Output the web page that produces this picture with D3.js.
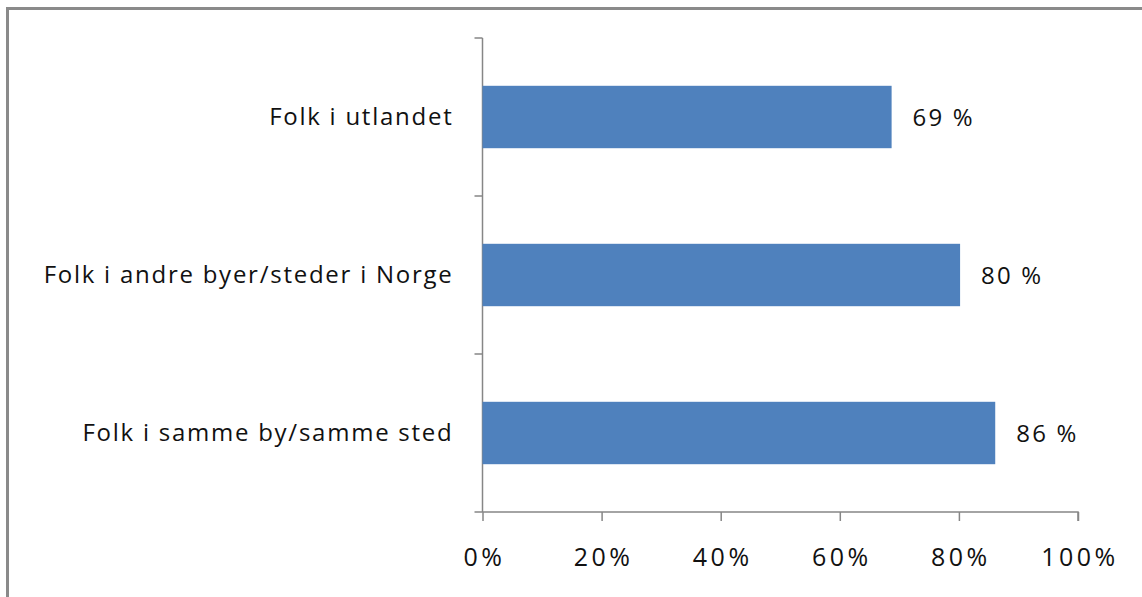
<!DOCTYPE html>
<html>
<head>
<meta charset="utf-8">
<script src="https://cdn.jsdelivr.net/npm/d3@7"></script>
<style>
  html, body { margin: 0; padding: 0; background: #fff; }
  svg { display: block; }
  text { font-family: "Open Sans", sans-serif; fill: #111; }
</style>
</head>
<body>
<svg id="chart" width="1142" height="597"></svg>
<script>
const categories = ["Folk i utlandet", "Folk i andre byer/steder i Norge", "Folk i samme by/samme sted"];
const values = [68.7, 80.2, 86.1];
const valueLabels = ["69 %", "80 %", "86 %"];
const tickValues = [0, 20, 40, 60, 80, 100];
const tickLabels = ["0%", "20%", "40%", "60%", "80%", "100%"];

const svg = d3.select("#chart");
const margin = {left: 482.5, top: 38};

// outer frame (partially cropped)
svg.append("rect")
  .attr("x", 7.5).attr("y", 8.5)
  .attr("width", 1300).attr("height", 800)
  .attr("fill", "none").attr("stroke", "#8a8a8a").attr("stroke-width", 3);

const x = d3.scaleLinear().domain([0, 100]).range([margin.left, 1078]);
const y = d3.scaleBand().domain(categories).range([margin.top, 512]).paddingInner(0.605).paddingOuter(0.3025);

const axisColor = "#868686";

// y axis line and ticks at band boundaries
const yAxisG = svg.append("g");
yAxisG.append("line")
  .attr("x1", x(0)).attr("x2", x(0))
  .attr("y1", margin.top).attr("y2", 512)
  .attr("stroke", axisColor).attr("stroke-width", 1.5);
const boundaries = d3.range(categories.length + 1).map(i => margin.top + i * (512 - margin.top) / categories.length);
yAxisG.selectAll("line.yt").data(boundaries).join("line")
  .attr("class", "yt")
  .attr("x1", x(0) - 8).attr("x2", x(0))
  .attr("y1", d => d).attr("y2", d => d)
  .attr("stroke", axisColor).attr("stroke-width", 1.5);

// x axis
const xAxis = d3.axisBottom(x).tickValues(tickValues).tickSize(9).tickFormat((d, i) => tickLabels[i]);
const xg = svg.append("g").attr("transform", "translate(0,512)").call(xAxis);
xg.select(".domain").attr("stroke", axisColor).attr("stroke-width", 1.5).attr("d", `M${x(0)},0H${x(100)}V9`);
xg.selectAll(".tick line").attr("stroke", axisColor).attr("stroke-width", 1.5);
xg.selectAll(".tick text")
  .attr("y", 54).attr("dy", 0)
  .attr("dx", 1.5)
  .style("font-family", "'Open Sans', sans-serif")
  .style("font-size", "25px")
  .style("letter-spacing", "3.5px")
  .attr("fill", "#111");

// bars
svg.selectAll("rect.bar").data(categories).join("rect")
  .attr("class", "bar")
  .attr("x", x(0))
  .attr("y", d => y(d))
  .attr("width", (d, i) => x(values[i]) - x(0))
  .attr("height", y.bandwidth())
  .attr("fill", "#4F81BD");

// category labels
svg.selectAll("text.cat").data(categories).join("text")
  .attr("class", "cat")
  .attr("x", 453.5)
  .attr("y", d => y(d) + y.bandwidth() / 2)
  .attr("dy", "0.35em")
  .attr("text-anchor", "end")
  .style("font-size", "24px")
  .style("letter-spacing", "1.75px")
  .text(d => d);

// value labels
svg.selectAll("text.val").data(categories).join("text")
  .attr("class", "val")
  .attr("x", (d, i) => x(values[i]) + 21)
  .attr("y", d => y(d) + y.bandwidth() / 2)
  .attr("dy", "0.38em")
  .style("font-size", "24px")
  .style("letter-spacing", "2.2px")
  .text((d, i) => valueLabels[i]);
</script>
</body>
</html>
